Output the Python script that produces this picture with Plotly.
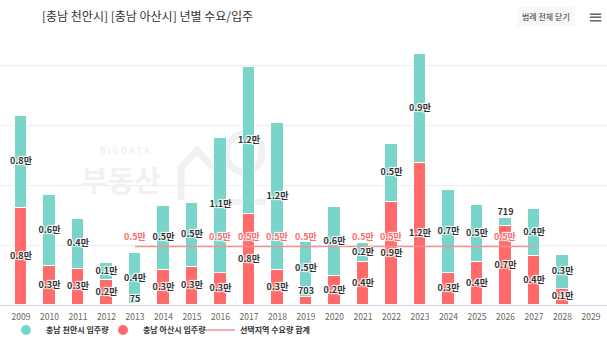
import plotly.graph_objects as go

# ---------------- data ----------------
years = list(range(2009, 2030))
tick_labels = [str(y) for y in years]

cheonan = [7700, 5900, 4200, 1400, 4300, 5400, 5300, 11300, 12300, 12300,
           4600, 5800, 1600, 4900, 9100, 6900, 4800, 719, 3900, 2900, 0]
asan = [8100, 3300, 3000, 2100, 75, 2900, 3200, 2700, 7600, 2900,
        703, 2400, 3600, 8600, 11900, 2700, 3600, 6600, 4100, 1300, 0]

demand_years = list(range(2013, 2028))
demand = [4900, 4900, 4900, 4900, 4900, 4900, 4900, 4900,
          4900, 4900, 4900, 4900, 4900, 4900, 4900]
demand_label_years = [2013, 2016, 2017, 2018, 2019, 2021, 2022, 2026]

name_cheonan = "충남 천안시 입주량"
name_asan = "충남 아산시 입주량"
name_demand = "선택지역 수요량 합계"
title_text = "[충남 천안시] [충남 아산시] 년별 수요/입주"

# ---------------- style ----------------
TEAL = "#79d4c9"
RED = "#ff6b6b"
LINE = "#f39292"
WM = "#f1f1f1"
FONT = "Noto Sans CJK KR"
OUTLINE = "1px 1px 1px #fff, -1px -1px 1px #fff, 1px -1px 1px #fff, -1px 1px 1px #fff"
SMALL = 1000  # segments shorter than this get their label above the bar
W, H = 607, 359
MT, MB = 42, 54
PLOT_BOTTOM = H - MB
PLOT_H = H - MT - MB


def fmt(v):
    if v < 1000:
        return str(v)
    return f"{v / 10000:.1f}만"


def px(x):  # page pixel -> paper x
    return x / W


def py(y):  # page pixel -> paper y
    return (PLOT_BOTTOM - y) / PLOT_H


fig = go.Figure()

# stacked bars: 아산 at bottom, 천안 on top
fig.add_trace(go.Bar(x=years, y=asan, marker=dict(color=RED, line=dict(color="white", width=1)),
                     width=0.44, showlegend=False, name=name_asan, hoverinfo="skip"))
fig.add_trace(go.Bar(x=years, y=cheonan, marker=dict(color=TEAL, line=dict(color="white", width=1)),
                     width=0.44, showlegend=False, name=name_cheonan, hoverinfo="skip"))

# demand line
fig.add_trace(go.Scatter(x=demand_years, y=demand, mode="lines",
                         line=dict(color=LINE, width=1.5), showlegend=False, hoverinfo="skip"))

# data labels for bar segments
lx, ly, lt, lp = [], [], [], []
for x, a, c in zip(years, asan, cheonan):
    for base, v in ((0, a), (a, c)):
        if v <= 0:
            continue
        lx.append(x)
        lt.append(fmt(v))
        if v < SMALL:
            ly.append(base + v)
            lp.append("top center")
        else:
            ly.append(base + v / 2)
            lp.append("middle center")
fig.add_trace(go.Scatter(x=lx, y=ly, text=lt, mode="text", textposition=lp,
                         textfont=dict(family=FONT, size=9, color="#333", weight="bold", shadow=OUTLINE),
                         showlegend=False, hoverinfo="skip", cliponaxis=False))

# demand labels (above the line)
for x, v in zip(demand_years, demand):
    if x in demand_label_years:
        fig.add_annotation(x=x, y=v, xref="x", yref="y", text=fmt(v), showarrow=False,
                           yshift=10, font=dict(family=FONT, size=9, color=RED, weight="bold",
                                                shadow=OUTLINE))

# legend entries (circle markers like the original), one legend box per entry
fig.add_trace(go.Scatter(x=[None], y=[None], mode="markers", name=name_cheonan, legend="legend",
                         marker=dict(color=TEAL, size=10, symbol="circle")))
fig.add_trace(go.Scatter(x=[None], y=[None], mode="markers", name=name_asan, legend="legend2",
                         marker=dict(color=RED, size=10, symbol="circle")))
fig.add_trace(go.Scatter(x=[None], y=[None], mode="lines", name=name_demand, legend="legend3",
                         line=dict(color=LINE, width=1.5)))

# watermark text
fig.add_annotation(xref="paper", yref="paper", x=px(125), y=py(150), xanchor="center", yanchor="middle",
                   text="B I G D A T A", showarrow=False,
                   font=dict(family=FONT, size=9, color="#ececec"))
fig.add_annotation(xref="paper", yref="paper", x=px(121), y=py(179), xanchor="center", yanchor="middle",
                   text="부동산", showarrow=False,
                   font=dict(family=FONT, size=29, color=WM, weight="bold"))

# watermark logo (decorative)
fig.add_shape(type="path", xref="paper", yref="paper", layer="below",
              path=f"M {px(181)} {py(200)} L {px(181)} {py(168)} L {px(197)} {py(150)} L {px(213)} {py(168)}",
              line=dict(color=WM, width=7))
fig.add_shape(type="rect", xref="paper", yref="paper", layer="below",
              x0=px(214), x1=px(221), y0=py(205), y1=py(142), line=dict(width=0), fillcolor=WM)
fig.add_shape(type="circle", xref="paper", yref="paper", layer="below",
              x0=px(226), x1=px(262), y0=py(172), y1=py(134), line=dict(color=WM, width=7))
fig.add_shape(type="rect", xref="paper", yref="paper", layer="below",
              x0=px(226), x1=px(266), y0=py(205), y1=py(199), line=dict(width=0), fillcolor=WM)

# top-right button and menu icon
fig.add_annotation(xref="paper", yref="paper", x=px(546), y=py(17), xanchor="center", yanchor="middle",
                   text="범례 전체 닫기", showarrow=False, bgcolor="#f7f7f7", borderpad=4,
                   font=dict(family=FONT, size=8, color="#333"))
fig.add_annotation(xref="paper", yref="paper", x=px(595), y=py(17), xanchor="center", yanchor="middle",
                   text="≡", showarrow=False, font=dict(family="DejaVu Sans", size=18, color="#666"))

legend_common = dict(orientation="h", xanchor="left", xref="container",
                     y=1 - 330 / H, yanchor="middle", yref="container",
                     font=dict(family=FONT, size=8, color="#333", weight="bold"),
                     itemwidth=30, bgcolor="rgba(0,0,0,0)")

fig.update_layout(
    width=W, height=H,
    margin=dict(l=0, r=0, t=MT, b=MB, autoexpand=False),
    paper_bgcolor="white", plot_bgcolor="white",
    barmode="stack", bargap=0,
    title=dict(text=title_text, x=42 / W, xanchor="left", y=1 - 17 / H, yanchor="middle",
               font=dict(family=FONT, size=12, color="#333")),
    legend=dict(x=6 / W, **legend_common),
    legend2=dict(x=103 / W, **legend_common),
    legend3=dict(x=200 / W, **legend_common),
    xaxis=dict(range=[2008.263, 2029.56], tickmode="array", tickvals=years, ticktext=tick_labels,
               showgrid=False, showline=True, linecolor="#ccd6eb", linewidth=1, ticks="",
               ticklabelstandoff=4, tickfont=dict(family=FONT, size=8.5, color="#666"), zeroline=False),
    yaxis=dict(range=[0, 22000], tickvals=[0, 5000, 10000, 15000, 20000], showticklabels=False,
               showgrid=True, gridcolor="#ececec", gridwidth=1, zeroline=False, ticks=""),
    font=dict(family=FONT),
    hovermode=False,
)

fig.write_html("out.html", config={"displayModeBar": False},
               post_script="document.body.style.margin='0';")
